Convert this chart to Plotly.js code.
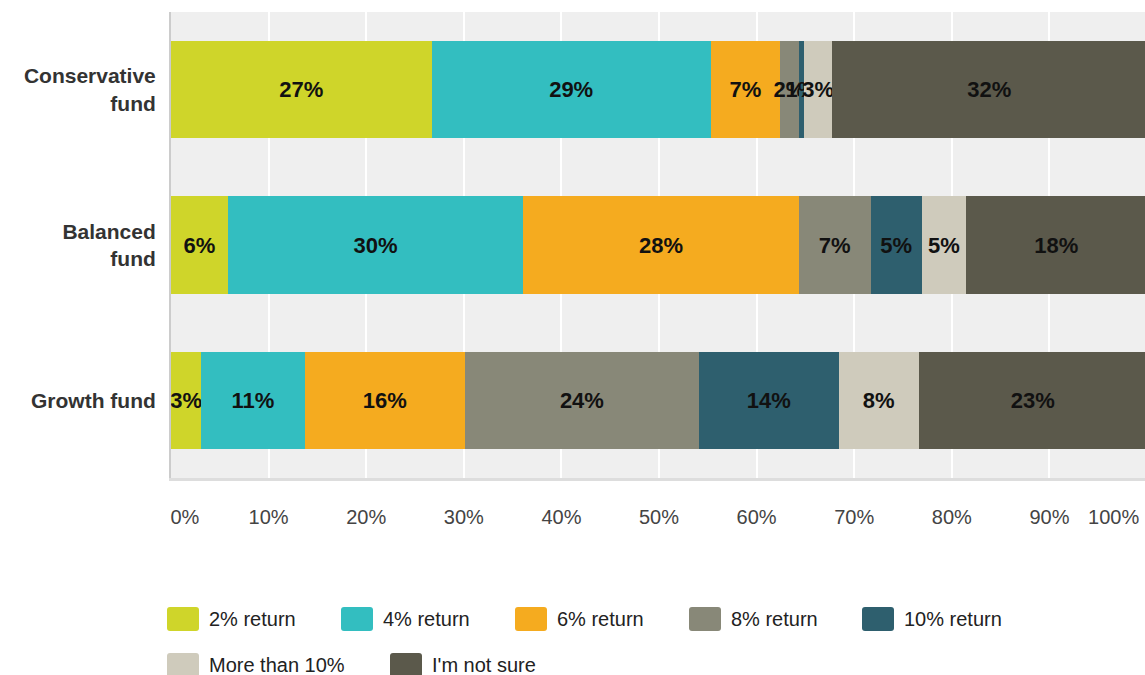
<!DOCTYPE html>
<html>
<head>
<meta charset="utf-8">
<script src="https://cdn.plot.ly/plotly-3.0.1.min.js"></script>
<style>
html,body{margin:0;padding:0;overflow:hidden;background:#fff;}
#chart{width:1147px;height:675px;}
</style>
</head>
<body>
<div id="chart"></div>
<script>
// ---- data ----
var funds = ["Conservative<br>fund", "Balanced<br>fund", "Growth fund"];
var seriesNames = ["2% return", "4% return", "6% return", "8% return", "10% return", "More than 10%", "I'm not sure"];
var ret2   = [26.7, 5.8, 3.1];
var ret4   = [28.6, 30.3, 10.6];
var ret6   = [7.1, 28.2, 16.4];
var ret8   = [1.9, 7.4, 24.0];
var ret10  = [0.6, 5.2, 14.3];
var retMore = [2.8, 4.6, 8.2];
var notSure = [32.3, 18.4, 23.4];
var xTickVals = [0, 10, 20, 30, 40, 50, 60, 70, 80, 90, 100];
var xTickText = ["\u00a0\u00a0\u00a0\u00a0\u00a00%", "10%", "20%", "30%", "40%", "50%", "60%", "70%", "80%", "90%", "100%\u00a0\u00a0\u00a0\u00a0\u00a0\u00a0\u00a0\u00a0\u00a0\u00a0\u00a0\u00a0"];

// ---- style ----
var colors = ["#cfd52a", "#33bec0", "#f5ab1f", "#888878", "#2e5f6e", "#cfcbbc", "#5b594b"];
var allSeries = [ret2, ret4, ret6, ret8, ret10, retMore, notSure];
var FONT = "Liberation Sans, Arial, sans-serif";

var traces = allSeries.map(function (vals, i) {
  return {
    type: "bar",
    orientation: "h",
    name: seriesNames[i],
    y: funds,
    x: vals,
    text: vals.map(function (v) { return Math.round(v) + "%"; }),
    textposition: "inside",
    insidetextanchor: "middle",
    textangle: 0,
    constraintext: "none",
    textfont: {family: FONT, size: 22, color: "#111", weight: "bold"},
    marker: {color: colors[i], line: {width: 0}},
    hoverinfo: "name+x",
    showlegend: false
  };
});

// ---- manual legend (large rounded swatches) ----
var plotL = 171, plotW = 976, plotT = 12, plotH = 466;
function px2x(p) { return (p - plotL) / plotW; }
function py2y(p) { return (plotT + plotH - p) / plotH; }
var legX = [167, 341, 515, 689, 862, 167, 390];
var legY = [619, 619, 619, 619, 619, 665, 665];
var shapes = [], annotations = [];
seriesNames.forEach(function (name, i) {
  var w = 16, h = 12, r = 3;
  var path = "M" + (-w + r) + "," + (-h) + " L" + (w - r) + "," + (-h) + " Q" + w + "," + (-h) + " " + w + "," + (-h + r) +
    " L" + w + "," + (h - r) + " Q" + w + "," + h + " " + (w - r) + "," + h +
    " L" + (-w + r) + "," + h + " Q" + (-w) + "," + h + " " + (-w) + "," + (h - r) +
    " L" + (-w) + "," + (-h + r) + " Q" + (-w) + "," + (-h) + " " + (-w + r) + "," + (-h) + " Z";
  shapes.push({
    type: "path", xref: "paper", yref: "paper",
    xsizemode: "pixel", ysizemode: "pixel",
    xanchor: px2x(legX[i] + 16), yanchor: py2y(legY[i]),
    path: path, fillcolor: colors[i], line: {width: 0}
  });
  annotations.push({
    xref: "paper", yref: "paper", x: px2x(legX[i] + 40), y: py2y(legY[i]),
    xanchor: "left", yanchor: "middle", showarrow: false,
    text: name, font: {family: FONT, size: 20, color: "#222"}
  });
});

var layout = {
  width: 1147, height: 675,
  margin: {l: plotL, r: 0, t: plotT, b: 675 - plotT - plotH, pad: 0},
  barmode: "stack",
  bargap: 0.375,
  paper_bgcolor: "#ffffff",
  plot_bgcolor: "#efefef",
  showlegend: false,
  uniformtext: {minsize: 22, mode: "show"},
  font: {family: FONT},
  xaxis: {
    range: [0, 100], tickvals: xTickVals, ticktext: xTickText,
    showgrid: true, gridcolor: "#ffffff", gridwidth: 2,
    zeroline: false, showline: true, linecolor: "#dddddd", linewidth: 3,
    ticks: "", ticklabelstandoff: 19, ticklabeloverflow: "allow",
    tickfont: {family: FONT, size: 20, color: "#444"}, fixedrange: true
  },
  yaxis: {
    type: "category", categoryorder: "array", categoryarray: funds.slice().reverse(),
    showgrid: false, zeroline: false, showline: true, linecolor: "#cccccc", linewidth: 2,
    ticks: "", ticklabelstandoff: 9,
    tickfont: {family: FONT, size: 21, color: "#333", weight: "bold"}, fixedrange: true
  },
  shapes: shapes,
  annotations: annotations
};

Plotly.newPlot("chart", traces, layout, {displayModeBar: false, staticPlot: true});
</script>
</body>
</html>
